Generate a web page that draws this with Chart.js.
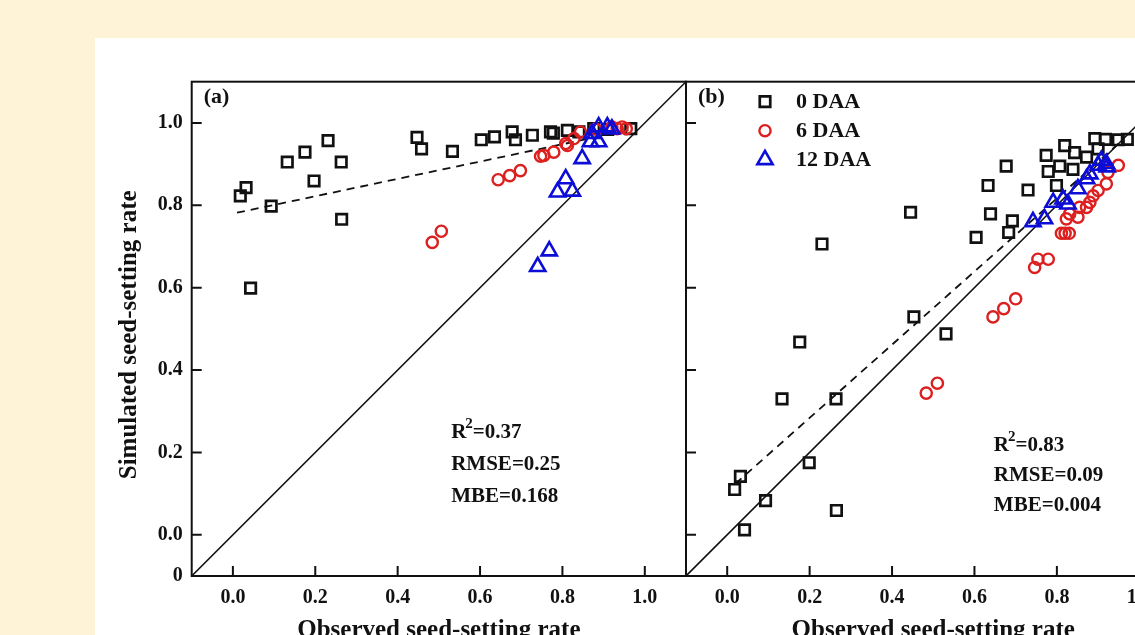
<!DOCTYPE html>
<html>
<head>
<meta charset="utf-8">
<script src="https://cdn.jsdelivr.net/npm/chart.js@4.4.0/dist/chart.umd.min.js"></script>
<style>
  body { margin: 0; width: 1135px; height: 635px; overflow: hidden; position: relative; background: #fef3d6; }
  #paper { position: absolute; left: 95px; top: 38px; right: 0; bottom: 0; background: #fff; }
  .wrap { position: absolute; top: 38px; }
</style>
</head>
<body>
<div id="paper"></div>
<div class="wrap" style="left:95px"><canvas id="chartA" width="595" height="620"></canvas></div>
<div class="wrap" style="left:682px"><canvas id="chartB" width="540" height="620"></canvas></div>
<script>
// axis ticks
var xTicks = [0, 0.2, 0.4, 0.6, 0.8, 1.0];
var xTickLabels = ["0.0", "0.2", "0.4", "0.6", "0.8", "1.0"];
var yTicks = [-0.1, 0, 0.2, 0.4, 0.6, 0.8, 1.0];
var yTickLabels = ["0", "0.0", "0.2", "0.4", "0.6", "0.8", "1.0"];
var seriesNames = ["0 DAA", "6 DAA", "12 DAA"];

// panel (a)
var a0x = [0.018, 0.032, 0.043, 0.093, 0.132, 0.175, 0.197, 0.231, 0.263, 0.264, 0.447, 0.458, 0.533, 0.603, 0.635, 0.678, 0.686, 0.727, 0.771, 0.778, 0.812, 0.84, 0.876, 0.91, 0.966];
var a0y = [0.823, 0.843, 0.599, 0.798, 0.905, 0.929, 0.859, 0.957, 0.905, 0.766, 0.965, 0.937, 0.931, 0.959, 0.966, 0.978, 0.959, 0.970, 0.978, 0.975, 0.982, 0.978, 0.986, 0.984, 0.986];
var a6x = [0.484, 0.506, 0.644, 0.672, 0.698, 0.747, 0.755, 0.779, 0.808, 0.812, 0.828, 0.844, 0.88, 0.92, 0.933, 0.945, 0.955];
var a6y = [0.710, 0.737, 0.862, 0.872, 0.884, 0.919, 0.921, 0.929, 0.950, 0.945, 0.962, 0.978, 0.985, 0.990, 0.986, 0.990, 0.986];
var a12x = [0.740, 0.768, 0.788, 0.808, 0.824, 0.848, 0.868, 0.872, 0.888, 0.888, 0.909, 0.92];
var a12y = [0.651, 0.689, 0.832, 0.864, 0.834, 0.913, 0.954, 0.974, 0.954, 0.990, 0.990, 0.985];
var aFitX = [0.01, 0.97];
var aFitY = [0.782, 0.984];
var aStats = ["0.37", "0.25", "0.168"];

// panel (b)
var b0x = [0.018, 0.032, 0.042, 0.093, 0.133, 0.176, 0.199, 0.230, 0.264, 0.265, 0.445, 0.453, 0.531, 0.604, 0.633, 0.639, 0.677, 0.683, 0.692, 0.730, 0.774, 0.779, 0.799, 0.807, 0.819, 0.839, 0.843, 0.872, 0.892, 0.900, 0.918, 0.949, 0.971];
var b0y = [0.110, 0.142, 0.012, 0.083, 0.330, 0.468, 0.175, 0.706, 0.330, 0.059, 0.783, 0.529, 0.488, 0.722, 0.848, 0.779, 0.895, 0.734, 0.762, 0.837, 0.921, 0.882, 0.848, 0.895, 0.945, 0.887, 0.928, 0.917, 0.962, 0.937, 0.960, 0.959, 0.960];
var b6x = [0.483, 0.510, 0.645, 0.671, 0.700, 0.746, 0.754, 0.779, 0.811, 0.820, 0.830, 0.823, 0.831, 0.851, 0.855, 0.872, 0.880, 0.888, 0.900, 0.920, 0.924, 0.949];
var b6y = [0.344, 0.368, 0.529, 0.549, 0.573, 0.649, 0.669, 0.669, 0.732, 0.732, 0.732, 0.767, 0.779, 0.771, 0.795, 0.795, 0.807, 0.823, 0.836, 0.852, 0.880, 0.897];
var b12x = [0.742, 0.770, 0.791, 0.815, 0.827, 0.851, 0.872, 0.880, 0.900, 0.908, 0.920, 0.922];
var b12y = [0.760, 0.767, 0.807, 0.815, 0.803, 0.840, 0.864, 0.876, 0.897, 0.909, 0.901, 0.893];
var bFitX = [0.02, 0.96];
var bFitY = [0.124, 0.959];
var bStats = ["0.83", "0.09", "0.004"];

var oneToOne = [-0.1, 1.1];

var SERIF = '"Liberation Serif", "Times New Roman", serif';
var INK = "#111";
var RED = "#dc1f1f";
var BLUE = "#0d0dd8";

function pts(xs, ys) {
  return xs.map(function (x, i) { return { x: x, y: ys[i] }; });
}

function markerSets(x0, y0, x6, y6, x12, y12) {
  return [
    { label: seriesNames[0], data: pts(x0, y0), pointStyle: "rect", pointRadius: 7.4, borderColor: INK, backgroundColor: "rgba(0,0,0,0)", pointBorderWidth: 2.7, order: 3 },
    { label: seriesNames[1], data: pts(x6, y6), pointStyle: "circle", pointRadius: 5.6, borderColor: RED, backgroundColor: "rgba(0,0,0,0)", pointBorderWidth: 2.4, order: 2 },
    { label: seriesNames[2], data: pts(x12, y12), pointStyle: "triangle", pointRadius: 8.8, borderColor: BLUE, backgroundColor: "rgba(0,0,0,0)", pointBorderWidth: 2.6, order: 1 }
  ];
}

function lineSets(fx, fy) {
  return [
    { label: "1:1", data: pts(oneToOne, oneToOne), showLine: true, pointRadius: 0, borderColor: INK, borderWidth: 1.6, order: 5 },
    { label: "fit", data: pts(fx, fy), showLine: true, pointRadius: 0, borderColor: INK, borderWidth: 1.8, borderDash: [8, 6], order: 4 }
  ];
}

// frame and inward ticks
var frame = {
  id: "frame",
  afterDatasetsDraw: function (chart) {
    var ctx = chart.ctx, a = chart.chartArea, sx = chart.scales.x, sy = chart.scales.y;
    ctx.save();
    ctx.strokeStyle = INK;
    ctx.lineWidth = 2;
    ctx.strokeRect(a.left, a.top, a.right - a.left, a.bottom - a.top);
    ctx.beginPath();
    xTicks.forEach(function (v) {
      var px = sx.getPixelForValue(v);
      ctx.moveTo(px, a.bottom);
      ctx.lineTo(px, a.bottom - 10);
    });
    yTicks.forEach(function (v) {
      if (v <= sy.min) return;
      var py = sy.getPixelForValue(v);
      ctx.moveTo(a.left, py);
      ctx.lineTo(a.left + 10, py);
    });
    ctx.stroke();
    ctx.restore();
  }
};

function drawMarker(ctx, ds, x, y) {
  ctx.save();
  ctx.strokeStyle = ds.borderColor;
  ctx.lineWidth = ds.pointBorderWidth;
  var r = ds.pointRadius;
  ctx.beginPath();
  if (ds.pointStyle === "rect") {
    var s = r * Math.SQRT1_2;
    ctx.rect(x - s, y - s, 2 * s, 2 * s);
  } else if (ds.pointStyle === "circle") {
    ctx.arc(x, y, r, 0, Math.PI * 2);
  } else {
    ctx.moveTo(x, y - r);
    ctx.lineTo(x + Math.sin(Math.PI * 2 / 3) * r, y - Math.cos(Math.PI * 2 / 3) * r);
    ctx.lineTo(x - Math.sin(Math.PI * 2 / 3) * r, y - Math.cos(Math.PI * 2 / 3) * r);
    ctx.closePath();
  }
  ctx.stroke();
  ctx.restore();
}

// panel tag, statistics, legend and the y title
var notes = {
  id: "notes",
  afterDraw: function (chart, args, o) {
    var ctx = chart.ctx, a = chart.chartArea, sx = chart.scales.x, sy = chart.scales.y;
    ctx.save();
    ctx.fillStyle = INK;
    ctx.textBaseline = "middle";
    ctx.font = "bold 22px " + SERIF;
    ctx.fillText(o.tag, a.left + 12, a.top + 16);

    ctx.textBaseline = "alphabetic";
    var x0 = sx.getPixelForValue(o.at[0]);
    var yb = sy.getPixelForValue(o.at[1]);
    ctx.font = "bold 21px " + SERIF;
    ctx.fillText("R", x0, yb);
    var rw = ctx.measureText("R").width;
    ctx.font = "bold 15px " + SERIF;
    ctx.fillText("2", x0 + rw - 1, yb - 10);
    var tw = ctx.measureText("2").width;
    ctx.font = "bold 21px " + SERIF;
    ctx.fillText("=" + o.stats[0], x0 + rw + tw - 1, yb);
    ctx.fillText("RMSE=" + o.stats[1], x0, yb + o.gap);
    ctx.fillText("MBE=" + o.stats[2], x0, yb + 2 * o.gap);

    if (o.legend) {
      ctx.font = "bold 22px " + SERIF;
      ctx.textBaseline = "middle";
      for (var i = 0; i < 3; i++) {
        var ds = chart.data.datasets[i];
        var ly = a.top + 20 + i * 29;
        drawMarker(ctx, ds, a.left + 79, ly);
        ctx.fillStyle = INK;
        ctx.fillText(ds.label, a.left + 110, ly + 1);
      }
    }

    if (o.yTitle) {
      ctx.translate(35, (a.top + a.bottom) / 2 + 6);
      ctx.rotate(-Math.PI / 2);
      ctx.textAlign = "center";
      ctx.textBaseline = "middle";
      ctx.font = "bold 25px " + SERIF;
      ctx.fillText(o.yTitle, 0, 0);
    }
    ctx.restore();
  }
};

function makeChart(id, datasets, opts) {
  return new Chart(document.getElementById(id), {
    type: "scatter",
    data: { datasets: datasets },
    options: {
      responsive: false,
      animation: false,
      devicePixelRatio: 1,
      layout: { autoPadding: false, padding: opts.padding },
      plugins: {
        legend: { display: false },
        tooltip: { enabled: false },
        notes: opts.notes
      },
      scales: {
        x: {
          min: -0.1, max: 1.1,
          grid: { display: false, drawTicks: false },
          border: { display: false },
          afterBuildTicks: function (s) { s.ticks = xTicks.map(function (v) { return { value: v }; }); },
          afterFit: function (s) { s.height = 82; },
          ticks: {
            autoSkip: false, maxRotation: 0, padding: 10, color: INK,
            font: { family: SERIF, size: 20, weight: "bold" },
            callback: function (v, i) { return xTickLabels[i]; }
          },
          title: {
            display: true, text: "Observed seed-setting rate", color: INK,
            font: { family: SERIF, size: 25, weight: "bold" },
            padding: { top: 0, bottom: 12 }
          }
        },
        y: {
          min: -0.1, max: 1.1,
          display: opts.showY,
          grid: { display: false, drawTicks: false },
          border: { display: false },
          afterBuildTicks: function (s) { s.ticks = yTicks.map(function (v) { return { value: v }; }); },
          afterFit: function (s) { s.width = opts.showY ? 96.7 : 0; },
          ticks: {
            autoSkip: false, padding: 9, color: INK,
            font: { family: SERIF, size: 20, weight: "bold" },
            callback: function (v, i) { return yTickLabels[i]; }
          },
          title: { display: false }
        }
      }
    },
    plugins: [frame, notes]
  });
}

makeChart("chartA",
  markerSets(a0x, a0y, a6x, a6y, a12x, a12y).concat(lineSets(aFitX, aFitY)),
  {
    showY: true,
    padding: { left: 0, top: 43.7, right: 4, bottom: 0 },
    notes: { tag: "(a)", stats: aStats, at: [0.53, 0.235], gap: 32, legend: false, yTitle: "Simulated seed-setting rate" }
  });

makeChart("chartB",
  markerSets(b0x, b0y, b6x, b6y, b12x, b12y).concat(lineSets(bFitX, bFitY)),
  {
    showY: false,
    padding: { left: 4, top: 43.7, right: 41.5, bottom: 0 },
    notes: { tag: "(b)", stats: bStats, at: [0.647, 0.204], gap: 30, legend: true }
  });
</script>
</body>
</html>
